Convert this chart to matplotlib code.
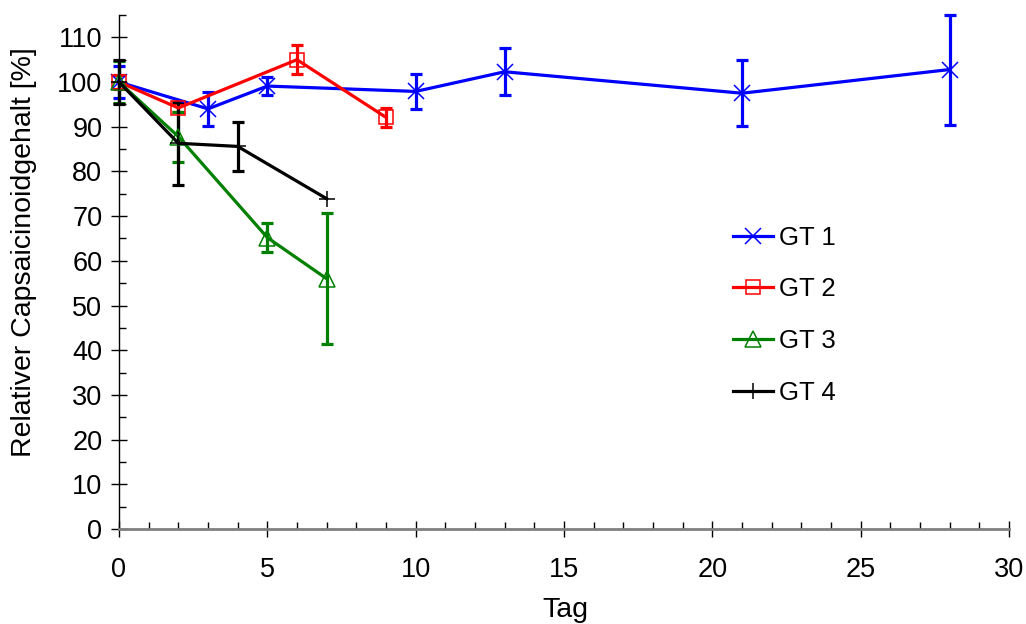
import matplotlib
matplotlib.use("Agg")
import matplotlib.pyplot as plt
from matplotlib.ticker import MultipleLocator

plt.rcParams['font.family'] = ['Liberation Sans', 'DejaVu Sans']

# Data
gt1_x = [0, 3, 5, 10, 13, 21, 28]
gt1_y = [100, 94.0, 99.1, 97.9, 102.3, 97.5, 102.8]
gt1_e = [3.5, 3.8, 2.1, 4.0, 5.3, 7.4, 12.3]

gt2_x = [0, 2, 6, 9]
gt2_y = [100, 94.2, 105.0, 92.1]
gt2_e = [1.5, 1.0, 3.3, 2.2]

gt3_x = [0, 2, 5, 7]
gt3_y = [100, 87.8, 65.2, 56.0]
gt3_e = [4.8, 5.6, 3.2, 14.6]

gt4_x = [0, 2, 4, 7]
gt4_y = [100, 86.3, 85.6, 73.9]
gt4_e = [5.0, 9.3, 5.4, 0.0]

labels = ["GT 1", "GT 2", "GT 3", "GT 4"]

W, H = 1026, 624
fig = plt.figure(figsize=(W / 100, H / 100), dpi=100)
L, R, B, T = 119, 1009, 529, 15
ax = fig.add_axes([L / W, (H - B) / H, (R - L) / W, (B - T) / H])

series = [
    (gt1_x, gt1_y, gt1_e, "#0000ff", "x", 12, dict(markerfacecolor="none")),
    (gt2_x, gt2_y, gt2_e, "#ff0000", "s", 10, dict(markerfacecolor="none")),
    (gt3_x, gt3_y, gt3_e, "#008000", "^", 12, dict(markerfacecolor="none")),
    (gt4_x, gt4_y, gt4_e, "#000000", "+", 12, dict()),
]

handles = []
for (x, y, e, c, m, ms, kw), lab in zip(series, labels):
    xs = [xi for xi, ei in zip(x, e) if ei > 0]
    ys = [yi for yi, ei in zip(y, e) if ei > 0]
    es = [ei for ei in e if ei > 0]
    ax.errorbar(xs, ys, yerr=es, fmt="none", ecolor=c, elinewidth=2.3,
                capsize=4, capthick=2.3, zorder=2, clip_on=False)
    h, = ax.plot(x, y, color=c, lw=2.3, marker=m, markersize=ms,
                 markeredgewidth=1.1, markeredgecolor=c, label=lab,
                 zorder=3, clip_on=False, **kw)
    handles.append(h)

ax.set_xlim(0, 30)
ax.set_ylim(0, 115)
ax.xaxis.set_major_locator(MultipleLocator(5))
ax.xaxis.set_minor_locator(MultipleLocator(1))
ax.yaxis.set_major_locator(MultipleLocator(10))
ax.yaxis.set_minor_locator(MultipleLocator(5))
ax.set_yticks(range(0, 111, 10))

for s in ["top", "right"]:
    ax.spines[s].set_visible(False)
ax.spines["left"].set_color("black")
ax.spines["left"].set_linewidth(1.0)
ax.spines["bottom"].set_color("#808080")
ax.spines["bottom"].set_linewidth(2.0)

ax.tick_params(axis="both", which="major", direction="inout", length=12,
               width=1.0, color="black", labelsize=19.5)
ax.tick_params(axis="x", which="major", pad=14)
ax.tick_params(axis="y", which="major", pad=6)
ax.tick_params(axis="both", which="minor", direction="in", length=5,
               width=1.0, color="black")

fig.text(565 / W, 1 - 610 / H, "Tag", ha="center", va="center", fontsize=20.5)
fig.text(24 / W, 1 - 252 / H, "Relativer Capsaicinoidgehalt [%]", rotation=90,
         ha="center", va="center", fontsize=20.5)

ax.legend(handles=handles, loc="upper left", bbox_to_anchor=(0.690, 0.590),
          frameon=False, fontsize=18.5, handlelength=1.55, handletextpad=0.25,
          labelspacing=1.08, borderpad=0, borderaxespad=0)

fig.savefig("out.png", dpi=100)
